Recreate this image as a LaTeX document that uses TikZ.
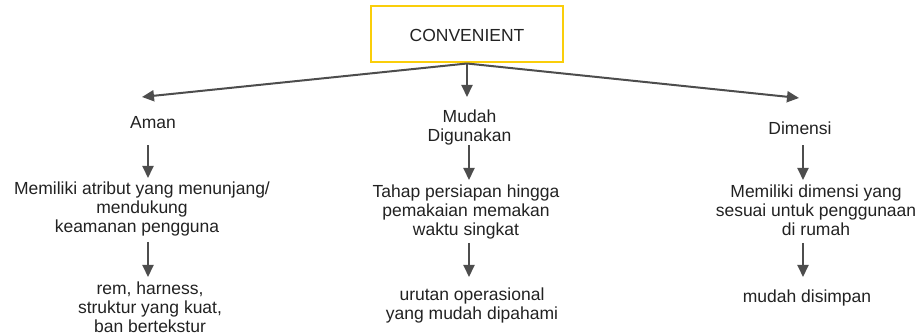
\documentclass[tikz,border=0pt]{standalone}
\usepackage{fontspec}
\setmainfont{Liberation Sans}
\usetikzlibrary{arrows.meta}
\definecolor{gold}{RGB}{250,206,10}
\definecolor{arrgray}{RGB}{77,77,77}
\definecolor{txtgray}{RGB}{34,34,34}
\tikzset{
  lbl/.style={inner sep=0pt, outer sep=0pt, align=center, text=txtgray,
    font=\fontsize{17.5}{19}\selectfont},
  topbox/.style={draw=gold, line width=2pt, minimum width=192pt, minimum height=56pt,
    inner sep=0pt, text=txtgray, font=\fontsize{17.5}{19}\selectfont},
  arr/.style={draw=arrgray, line width=2pt, -{Triangle[length=12pt,width=11pt]}}
}
\begin{document}
\begin{tikzpicture}[x=1pt,y=-1pt]
\useasboundingbox (0,0) rectangle (922,336);
% top box
\node[topbox] (conv) at (467,34.5) {};
\node[lbl, anchor=base] (convt) at (467,42) {CONVENIENT};
% level 1
\node[lbl, anchor=north] (aman) at (153,116) {Aman};
\node[lbl, anchor=north] (mudah) at (469.5,110) {Mudah\\Digunakan};
\node[lbl, anchor=north] (dim) at (800,122) {Dimensi};
% level 2
\node[lbl, anchor=north] (aman2) at (142,182) {Memiliki atribut yang menunjang/\\mendukung\\keamanan pengguna\hspace*{10pt}};
\node[lbl, anchor=north] (mudah2) at (466,185) {Tahap persiapan hingga\\pemakaian memakan\\waktu singkat};
\node[lbl, anchor=north] (dim2) at (816,185) {Memiliki dimensi yang\\sesuai untuk penggunaan\\di rumah};
% level 3
\node[lbl, anchor=north] (aman3) at (150,282) {rem, harness,\\struktur yang kuat,\\ban bertekstur};
\node[lbl, anchor=north] (mudah3) at (472,288) {urutan operasional\\yang mudah dipahami};
\node[lbl, anchor=north] (dim3) at (807,290) {mudah disimpan};
% top connectors
\draw[arr] (conv.south) -- ([shift={(-11,-19)}]aman.north);
\draw[arr] (conv.south) -- ([shift={(-2.5,-13)}]mudah.north);
\draw[arr] (conv.south) -- ([shift={(-1,-24)}]dim.north);
% level 1 -> 2
\draw[arr] ([shift={(-5,17)}]aman.south) -- ([shift={(6,-4)}]aman2.north);
\draw[arr] ([shift={(-0.5,0)}]mudah.south) -- ([shift={(3,-5)}]mudah2.north);
\draw[arr] ([shift={(3,10.5)}]dim.south) -- ([shift={(-13,-5)}]dim2.north);
% level 2 -> 3
\draw[arr] ([shift={(6,5.5)}]aman2.south) -- ([shift={(-2,-5)}]aman3.north);
\draw[arr] ([shift={(3,3.5)}]mudah2.south) -- ([shift={(-3,-11)}]mudah3.north);
\draw[arr] ([shift={(-13,7)}]dim2.south) -- ([shift={(-4,-13)}]dim3.north);
\end{tikzpicture}
\end{document}
